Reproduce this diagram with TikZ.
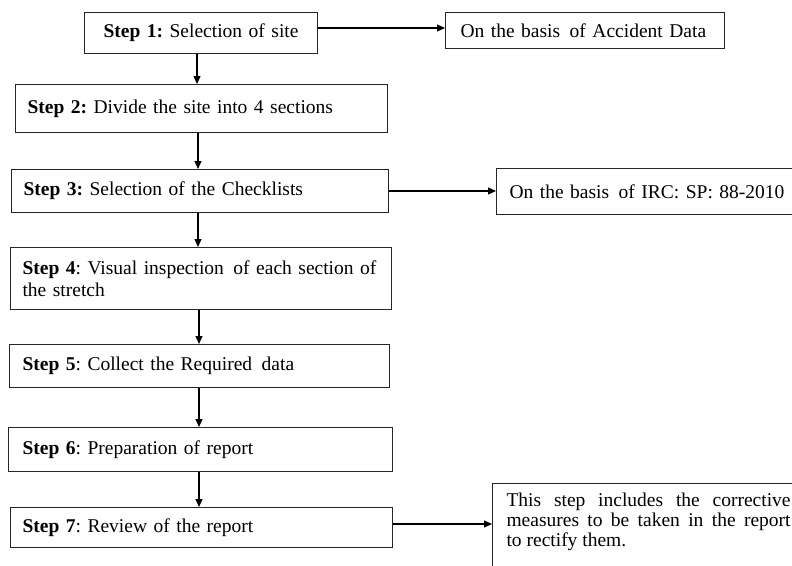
\documentclass[tikz,border=0pt]{standalone}
\usepackage{fontspec}
\setmainfont{Liberation Serif}
\usetikzlibrary{arrows.meta}
\begin{document}
\begin{tikzpicture}[x=1pt,y=-1pt,
  box/.style={draw=black!85, line width=1.1pt, anchor=north west, inner ysep=0pt,
    font=\fontsize{19.5}{22}\selectfont\frenchspacing, align=left},
  arr/.style={draw=black, line width=1.1pt, -{Triangle[length=8pt,width=7pt]}}]
\useasboundingbox (0,0) rectangle (792,565);
% boxes
\node[box, align=center, inner xsep=8pt, text width=217pt, minimum width=233pt, minimum height=41pt] (b1) at (84,12) {\textbf{Step 1:} Selection of site};
\node[box, inner xsep=15pt, text width=249pt, minimum width=279pt, minimum height=36pt] (A) at (445,12) {On the basis\hspace{3pt} of Accident Data};
\node[box, inner xsep=12pt, text width=348pt, minimum width=372pt, minimum height=48pt] (b2) at (15,84) {\textbf{Step 2:} Divide the site into 4 sections};
\node[box, inner xsep=12pt, text width=353pt, minimum width=377pt, minimum height=43pt] (b3) at (11,169) {\textbf{Step 3:} Selection of the Checklists};
\node[box, inner xsep=13pt, text width=288pt, minimum width=314pt, minimum height=46pt] (B) at (496,168) {On the basis\hspace{3pt} of IRC: SP: 88-2010};
\node[box, inner xsep=12pt, text width=357pt, minimum width=381pt, minimum height=62pt] (b4) at (10,247) {\mbox{\textbf{Step 4}: Visual inspection\hspace{3pt} of each section of}\\the stretch};
\node[box, inner xsep=13pt, text width=354pt, minimum width=380pt, minimum height=43pt] (b5) at (9,344) {\textbf{Step 5}: Collect the Required\hspace{3pt} data};
\node[box, inner xsep=14pt, text width=356pt, minimum width=384pt, minimum height=44pt] (b6) at (8,427) {\textbf{Step 6}: Preparation of report};
\node[box, inner xsep=12pt, text width=358pt, minimum width=382pt, minimum height=40pt] (b7) at (10,507) {\textbf{Step 7}: Review of the report};
\node[box, inner xsep=14pt, inner ysep=9pt] (C) at (492,483) {\parbox[t][100pt][t]{284pt}{\fontsize{19.5}{20}\selectfont\frenchspacing This step includes the corrective\linebreak measures to be taken in the report\linebreak to rectify them.}};
% connector coordinates
\coordinate (ax1) at (197,0);
\coordinate (ax2) at (198,0);
\coordinate (ax3) at (199,0);
\coordinate (ay1) at (0,28);
\coordinate (ay2) at (0,191);
\coordinate (ay3) at (0,524);
% connectors
\draw[arr] (b1.south -| ax1) -- (b2.north -| ax1);
\draw[arr] (b2.south -| ax2) -- (b3.north -| ax2);
\draw[arr] (b3.south -| ax2) -- (b4.north -| ax2);
\draw[arr] (b4.south -| ax3) -- (b5.north -| ax3);
\draw[arr] (b5.south -| ax3) -- (b6.north -| ax3);
\draw[arr] (b6.south -| ax3) -- (b7.north -| ax3);
\draw[arr] (b1.east |- ay1) -- (A.west |- ay1);
\draw[arr] (b3.east |- ay2) -- (B.west |- ay2);
\draw[arr] (b7.east |- ay3) -- (C.west |- ay3);
\end{tikzpicture}
\end{document}
